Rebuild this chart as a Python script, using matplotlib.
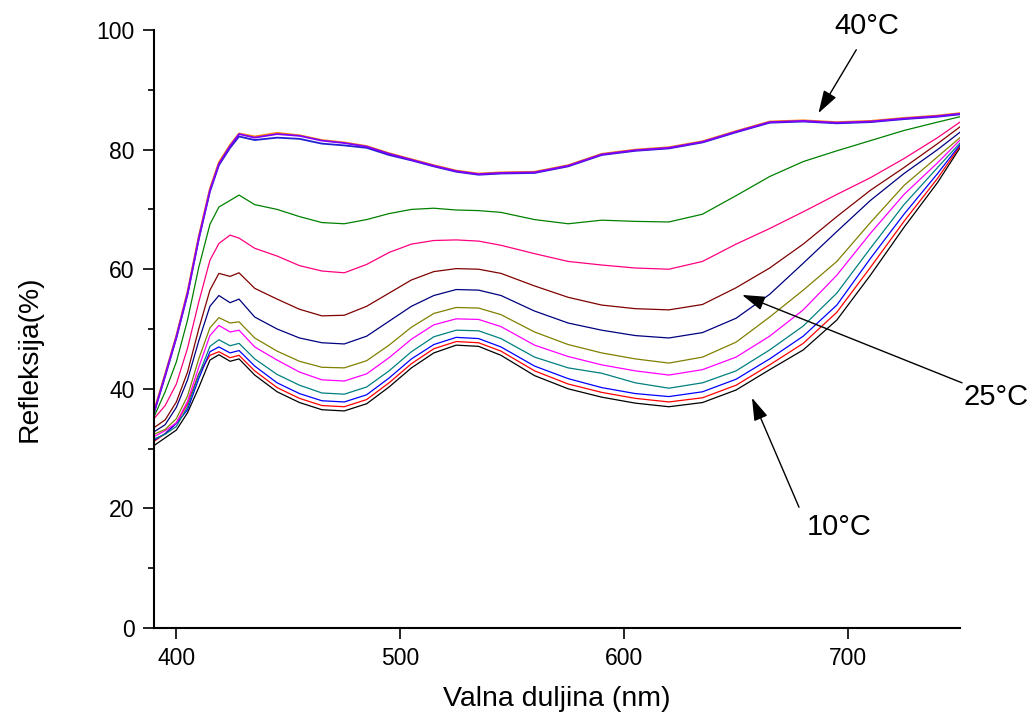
import numpy as np
import matplotlib
matplotlib.use('Agg')
import matplotlib.pyplot as plt
from matplotlib.ticker import MultipleLocator

plt.rcParams['font.family'] = ['Liberation Sans', 'DejaVu Sans']

# valna duljina (nm)
wl = [390, 395, 400, 405, 410, 415, 419, 424, 428, 435, 445, 455, 465, 475, 485,
      495, 505, 515, 525, 535, 545, 560, 575, 590, 605, 620, 635, 650, 665, 680,
      695, 710, 725, 740, 750]

# refleksija (%) po temperaturi, od 10 C prema gore
r_black = [30.5, 31.8, 33.1, 36.0, 40.2, 44.8, 45.7, 44.6, 45.0, 42.3, 39.5, 37.7, 36.5, 36.3, 37.5,
           40.3, 43.5, 46.0, 47.3, 47.1, 45.6, 42.2, 40.0, 38.6, 37.6, 37.0, 37.7, 39.8, 43.2, 46.5,
           51.5, 59.0, 67.0, 74.5, 80.3]
r_red = [31.2, 32.5, 34.3, 37.5, 42.5, 45.6, 46.2, 45.2, 45.6, 43.0, 40.2, 38.4, 37.2, 37.0, 38.2,
         41.0, 44.2, 46.7, 47.9, 47.7, 46.3, 43.0, 40.8, 39.4, 38.4, 37.8, 38.5, 40.6, 44.0, 47.6,
         52.8, 60.3, 68.0, 75.2, 80.6]
r_blue = [31.4, 32.5, 34.2, 36.5, 41.7, 46.2, 47.0, 46.0, 46.4, 43.8, 41.0, 39.2, 38.0, 37.8, 39.0,
          41.8, 45.0, 47.4, 48.6, 48.4, 47.0, 43.8, 41.7, 40.2, 39.2, 38.7, 39.5, 41.6, 45.0, 48.8,
          54.0, 61.8, 69.2, 76.0, 80.8]
r_teal = [31.6, 32.4, 33.7, 37.0, 42.3, 47.1, 48.2, 47.2, 47.6, 45.0, 42.4, 40.6, 39.3, 39.1, 40.3,
          43.0, 46.2, 48.7, 49.8, 49.7, 48.4, 45.3, 43.5, 42.6, 41.0, 40.1, 41.0, 43.0, 46.5, 50.5,
          56.0, 63.5, 70.8, 77.0, 81.1]
r_magenta = [32.0, 33.0, 34.3, 37.9, 43.6, 48.9, 50.6, 49.5, 49.8, 47.0, 44.8, 42.8, 41.5, 41.3, 42.5,
             45.2, 48.3, 50.7, 51.7, 51.6, 50.4, 47.3, 45.4, 44.0, 43.0, 42.3, 43.2, 45.3, 48.8, 53.2,
             59.0, 66.0, 72.5, 77.8, 81.6]
r_olive = [32.4, 33.2, 35.0, 38.8, 45.0, 50.2, 51.9, 51.0, 51.2, 48.5, 46.3, 44.6, 43.6, 43.5, 44.7,
           47.3, 50.3, 52.6, 53.6, 53.5, 52.4, 49.5, 47.4, 46.0, 45.0, 44.3, 45.3, 47.8, 52.0, 56.5,
           61.3, 67.8, 74.0, 78.8, 82.0]
r_navy = [32.8, 34.0, 36.9, 41.5, 48.0, 53.8, 55.6, 54.4, 55.0, 52.0, 50.0, 48.5, 47.7, 47.5, 48.8,
          51.3, 53.8, 55.6, 56.6, 56.5, 55.6, 53.0, 51.0, 49.8, 48.9, 48.5, 49.4, 51.8, 55.8, 61.0,
          66.3, 71.5, 76.0, 80.0, 82.9]
r_maroon = [33.5, 34.8, 37.8, 42.8, 50.0, 56.5, 59.3, 58.8, 59.4, 56.8, 55.0, 53.3, 52.2, 52.3, 53.8,
            56.0, 58.2, 59.6, 60.1, 60.0, 59.3, 57.2, 55.3, 54.0, 53.4, 53.2, 54.1, 56.9, 60.2, 64.2,
            68.8, 73.2, 77.0, 81.0, 83.8]
r_pink = [35.0, 37.2, 40.8, 46.8, 54.5, 61.5, 64.3, 65.7, 65.2, 63.5, 62.2, 60.6, 59.7, 59.4, 60.8,
          62.8, 64.2, 64.8, 64.9, 64.7, 64.0, 62.6, 61.3, 60.7, 60.2, 60.0, 61.3, 64.2, 66.8, 69.6,
          72.5, 75.3, 78.5, 82.0, 84.6]
r_green = [35.3, 39.5, 44.5, 51.5, 60.3, 67.5, 70.4, 71.5, 72.4, 70.8, 70.0, 68.8, 67.8, 67.6, 68.3,
           69.3, 70.0, 70.2, 69.9, 69.8, 69.5, 68.3, 67.6, 68.2, 68.0, 67.9, 69.2, 72.3, 75.5, 78.0,
           79.8, 81.5, 83.2, 84.6, 85.5]
r_top_blue = [36.0, 42.1, 48.5, 55.8, 65.0, 73.0, 77.4, 80.3, 82.2, 81.6, 82.0, 81.8, 81.0, 80.7, 80.3,
              79.1, 78.2, 77.2, 76.3, 75.8, 76.0, 76.1, 77.2, 79.1, 79.8, 80.2, 81.2, 82.9, 84.5, 84.7,
              84.4, 84.6, 85.1, 85.5, 85.9]
r_top_orange = [36.3, 42.5, 48.9, 56.3, 65.5, 73.5, 77.9, 80.8, 82.7, 82.2, 82.8, 82.4, 81.6, 81.2, 80.6,
                79.4, 78.4, 77.4, 76.5, 76.0, 76.2, 76.3, 77.4, 79.3, 80.0, 80.4, 81.4, 83.1, 84.7, 84.9,
                84.6, 84.8, 85.3, 85.7, 86.1]
r_top_purple = [36.0, 42.3, 48.7, 56.0, 65.2, 73.2, 77.6, 80.6, 82.6, 82.0, 82.6, 82.3, 81.5, 81.1, 80.5,
                79.3, 78.3, 77.3, 76.4, 75.9, 76.1, 76.2, 77.3, 79.2, 79.9, 80.3, 81.3, 83.0, 84.6, 84.8,
                84.5, 84.7, 85.2, 85.6, 86.0]

lower = [(r_black, '#000000'), (r_red, '#FF0000'), (r_blue, '#0000FF'), (r_teal, '#008080'),
         (r_magenta, '#FF00FF'), (r_olive, '#808000'), (r_navy, '#000080'), (r_maroon, '#800000'),
         (r_pink, '#FF0080'), (r_green, '#008000')]
upper = [(r_top_blue, '#2020D0'), (r_top_orange, '#FF8000'), (r_top_purple, '#8000FF')]

fig = plt.figure(figsize=(10.34, 7.2), dpi=100)
ax = fig.add_axes([0.1489, 0.1278, 0.7795, 0.8305])

for y, c in lower:
    ax.plot(wl, y, color=c, lw=0.9)
for y, c in upper:
    ax.plot(wl, y, color=c, lw=1.3)

ax.set_xlim(390, 750)
ax.set_ylim(0, 100)
ax.xaxis.set_major_locator(MultipleLocator(100))
ax.yaxis.set_major_locator(MultipleLocator(20))
ax.yaxis.set_minor_locator(MultipleLocator(10))

for s in ['top', 'right']:
    ax.spines[s].set_visible(False)
for s in ['left', 'bottom']:
    ax.spines[s].set_linewidth(1.5)
ax.tick_params(which='major', direction='out', length=8, width=1.2, labelsize=16.5, pad=6)
ax.tick_params(which='minor', direction='out', length=4, width=1.2)

ax.set_xlabel('Valna duljina (nm)', fontsize=20.5)
ax.set_ylabel('Refleksija(%)', fontsize=20.3)
ax.xaxis.set_label_coords(0.5, -0.097)
ax.yaxis.set_label_coords(-0.138, 0.451)

arrow = dict(arrowstyle='-|>,head_length=0.7,head_width=0.22', color='black', lw=1,
             mutation_scale=20, shrinkA=0, shrinkB=0)
ax.annotate('', xy=(686.8, 86.1), xytext=(703.7, 96.7), arrowprops=arrow, annotation_clip=False)
ax.annotate('', xy=(652.7, 55.7), xytext=(750.9, 41.0), arrowprops=arrow, annotation_clip=False)
ax.annotate('', xy=(657.1, 38.5), xytext=(678.1, 20.2), arrowprops=arrow, annotation_clip=False)
ax.text(708.5, 100.7, '40°C', fontsize=21, ha='center', va='center', clip_on=False)
ax.text(766, 38.6, '25°C', fontsize=21, ha='center', va='center', clip_on=False)
ax.text(696, 16.9, '10°C', fontsize=21, ha='center', va='center', clip_on=False)

fig.savefig('out.png', dpi=100)
